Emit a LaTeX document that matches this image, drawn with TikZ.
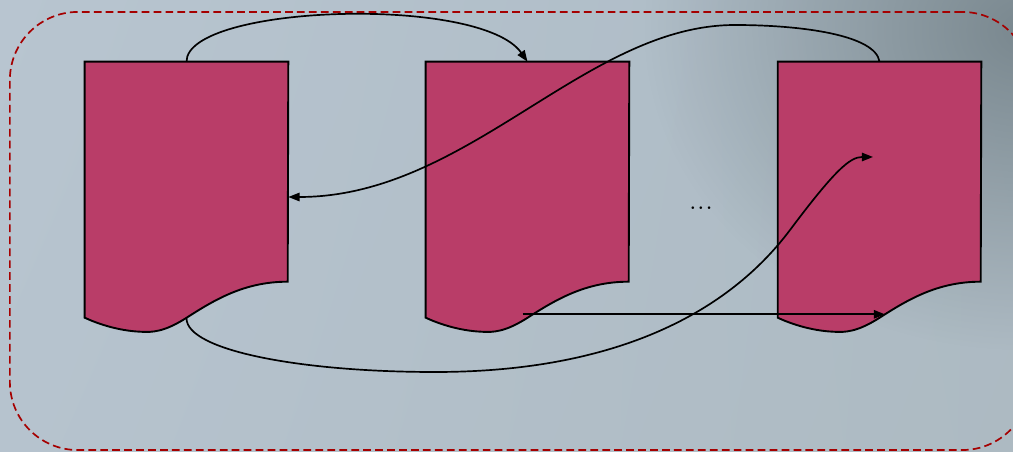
\documentclass[tikz,border=0pt]{standalone}
\usetikzlibrary{arrows.meta,calc,shadings,fadings}

\definecolor{docred}{RGB}{185,61,104}
\definecolor{framered}{RGB}{165,0,0}
\definecolor{bgul}{RGB}{184,197,208}
\definecolor{bgll}{RGB}{182,195,206}
\definecolor{bglr}{RGB}{173,186,194}
\definecolor{bgur}{RGB}{172,186,196}
\definecolor{bgdark}{RGB}{122,136,143}

\tikzfading[name=spotfade, inner color=transparent!0, outer color=transparent!100]

\begin{document}
\begin{tikzpicture}[
  x=0.025cm, y=-0.025cm,
  docbox/.style={rectangle, inner sep=0pt, minimum width=5.075cm, minimum height=6.75cm},
  docline/.style={draw=black, line width=1.35pt, fill=docred},
  frame/.style={draw=framered, line width=1.2pt, dash pattern=on 5.5pt off 3pt,
    rounded corners=1.7cm, minimum width=25.5cm, minimum height=10.95cm, inner sep=0pt},
  flow/.style={line width=1.2pt, -{Triangle[length=8pt,width=6pt]}},
]
% canvas is 1013 x 452 px, y runs downwards
\useasboundingbox (0,0) rectangle (1013,452);
\clip (0,0) rectangle (1013,452);

% Background
\shade[upper left=bgul, lower left=bgll, lower right=bglr, upper right=bgur] (0,0) rectangle (1013,452);
\fill[bgdark, path fading=spotfade] (1025,30) ellipse (9.5cm and 8cm);

% Dashed container
\node[frame] (border) at (520,231) {};

% Documents: {index}{left edge}
\foreach \i/\x in {1/85, 2/426, 3/778} {
  \node[docbox] (doc\i) at ({\x+101.5},197) {};
  \draw[docline] (doc\i.north west) -- (doc\i.north east)
    -- ($(doc\i.north west)+(203,220)$)
    .. controls ($(doc\i.north west)+(160,220)$) and ($(doc\i.north west)+(130,238)$) .. ($(doc\i.north west)+(102,256)$)
    .. controls ($(doc\i.north west)+(80,270)$) and ($(doc\i.north west)+(68,271)$) .. ($(doc\i.north west)+(55,270)$)
    .. controls ($(doc\i.north west)+(35,269)$) and ($(doc\i.north west)+(15,263)$) .. ($(doc\i.north west)+(0,256)$)
    -- cycle;
}

\node[font=\fontsize{23}{25}\selectfont] (dots) at (701,208) {...};

% Waypoints of the long connectors
\coordinate (top2) at (735,25);
\coordinate (low3) at (435,372);
\coordinate (mid3) at (790,230);
\coordinate (tip3) at (873,157);

% Connectors
\draw[flow] (doc1.north) .. controls +(0,-57) and +(-47,-67) .. (doc2.north);
\draw[flow] (doc3.north) .. controls +(-4,-27) and +(65,0) .. (top2)
  .. controls +(-150,0) and +(180,0) .. (doc1.east);
\draw[flow] ($(doc1.south)+(0,-14)$) .. controls +(0,32) and +(-135,0) .. (low3)
  .. controls +(185,0) and +(-60,80) .. (mid3)
  .. controls +(45,-60) and +(-23,0) .. (tip3);
\draw[flow] ($(doc2.south)+(-5,-18)$) -- ($(doc3.south)+(5.5,-18)$);

\end{tikzpicture}
\end{document}
